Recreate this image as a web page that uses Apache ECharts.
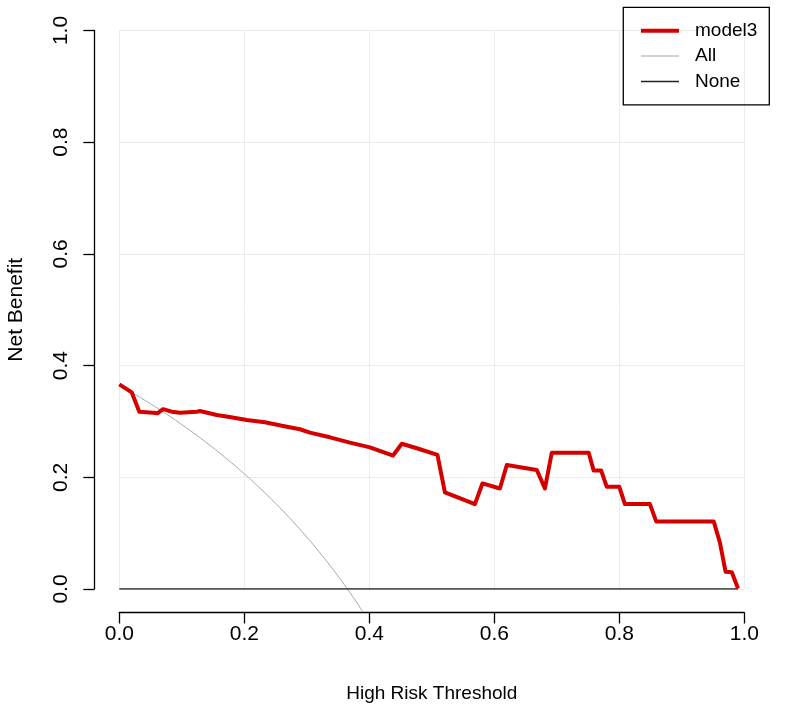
<!DOCTYPE html>
<html>
<head>
<meta charset="utf-8">
<script src="https://cdn.jsdelivr.net/npm/echarts@6/dist/echarts.min.js"></script>
<style>html,body{margin:0;padding:0;background:#fff}#c{width:787px;height:710px}</style>
</head>
<body>
<div id="c"></div>
<script>
// ---- data ----
var tickValues = [0, 0.2, 0.4, 0.6, 0.8, 1.0];
var seriesNames = ['model3', 'All', 'None'];

var modelThresholds = [0, 0.02, 0.032, 0.054, 0.061, 0.07, 0.084, 0.097, 0.124, 0.129, 0.156, 0.174, 0.204, 0.233, 0.262, 0.289, 0.305, 0.337, 0.369, 0.401, 0.438, 0.452, 0.476, 0.509, 0.521, 0.569, 0.581, 0.609, 0.620, 0.668, 0.681, 0.692, 0.751, 0.759, 0.771, 0.780, 0.800, 0.809, 0.849, 0.859, 0.951, 0.961, 0.970, 0.980, 0.990];
var modelNetBenefit = [0.3665, 0.352, 0.3175, 0.3157, 0.3145, 0.322, 0.3175, 0.3157, 0.3175, 0.3187, 0.3115, 0.3085, 0.3026, 0.2985, 0.2918, 0.286, 0.280, 0.2716, 0.262, 0.2536, 0.239, 0.260, 0.252, 0.240, 0.173, 0.152, 0.189, 0.180, 0.222, 0.213, 0.180, 0.244, 0.244, 0.212, 0.212, 0.183, 0.183, 0.152, 0.152, 0.121, 0.121, 0.083, 0.031, 0.030, 0.001];

var allThresholds = [0, 0.02, 0.04, 0.06, 0.08, 0.10, 0.12, 0.14, 0.16, 0.18, 0.20, 0.22, 0.24, 0.26, 0.28, 0.30, 0.32, 0.34, 0.36, 0.38, 0.389];
var allNetBenefit = [0.365, 0.352, 0.3385, 0.3245, 0.3098, 0.2944, 0.2784, 0.2616, 0.2440, 0.2256, 0.2062, 0.1859, 0.1645, 0.1419, 0.1181, 0.0929, 0.0662, 0.0379, 0.0078, -0.0242, -0.040];

var noneThresholds = [0, 0.99];
var noneNetBenefit = [0, 0];

function pairs(xs, ys) { return xs.map(function (x, i) { return [x, ys[i]]; }); }

var FONT = 'Liberation Sans, Arial, sans-serif';
var legendIcons = {
  model3: 'path://M0,0L38,0L38,4L0,4Z',
  All: 'path://M0,0L38,0L38,1L0,1Z',
  None: 'path://M0,0L38,0L38,1.5L0,1.5Z'
};
var chart = echarts.init(document.getElementById('c'), null, { renderer: 'canvas' });
chart.setOption({
  backgroundColor: '#ffffff',
  animation: false,
  grid: { left: 119.3, right: 42.7, top: 30.5, bottom: 121, containLabel: false, outerBoundsMode: 'none' },
  legend: {
    data: seriesNames.map(function (n) { return { name: n, icon: legendIcons[n] }; }),
    orient: 'vertical',
    right: 17.7,
    top: 7.3,
    borderColor: '#000',
    borderWidth: 1.3,
    padding: [14, 12, 14, 17.7],
    itemWidth: 38,
    itemHeight: 18,
    itemGap: 6.3,
    symbolKeepAspect: true,
    textStyle: { fontFamily: FONT, fontSize: 19, color: '#000', lineHeight: 18, padding: [0, 0, 0, 11] }
  },
  xAxis: {
    type: 'value', min: 0, max: 1, interval: 0.2, offset: 23.5,
    name: 'High Risk Threshold', nameLocation: 'middle', nameGap: 72,
    nameTextStyle: { fontFamily: FONT, fontSize: 19, color: '#000' },
    axisLine: { show: true, onZero: false, lineStyle: { color: '#000', width: 1.3 } },
    axisTick: { show: true, inside: false, length: 11, lineStyle: { color: '#000', width: 1.3 } },
    axisLabel: { fontFamily: FONT, fontSize: 21, color: '#000', margin: 11, formatter: function (v) { return v.toFixed(1); } },
    splitLine: { show: true, lineStyle: { color: '#ececec', width: 1 } }
  },
  yAxis: {
    type: 'value', min: 0, max: 1, interval: 0.2, offset: 25,
    name: 'Net Benefit', nameLocation: 'middle', nameGap: 68, nameRotate: 90,
    nameTextStyle: { fontFamily: FONT, fontSize: 21, color: '#000' },
    axisLine: { show: true, onZero: false, lineStyle: { color: '#000', width: 1.3 } },
    axisTick: { show: true, inside: false, length: 11, lineStyle: { color: '#000', width: 1.3 } },
    axisLabel: { fontFamily: FONT, fontSize: 21, color: '#000', margin: 23, rotate: 90, formatter: function (v) { return v.toFixed(1); } },
    splitLine: { show: true, lineStyle: { color: '#ececec', width: 1 } }
  },
  series: [
    {
      name: 'All', type: 'line', data: pairs(allThresholds, allNetBenefit), clip: false,
      showSymbol: false, symbol: 'none', smooth: true, z: 2,
      lineStyle: { color: '#a6a6a6', width: 1 }, itemStyle: { color: '#a6a6a6' }
    },
    {
      name: 'None', type: 'line', data: pairs(noneThresholds, noneNetBenefit),
      showSymbol: false, symbol: 'none', z: 3,
      lineStyle: { color: '#222', width: 1.5 }, itemStyle: { color: '#222' }
    },
    {
      name: 'model3', type: 'line', data: pairs(modelThresholds, modelNetBenefit),
      showSymbol: false, symbol: 'none', z: 4,
      lineStyle: { color: '#d40000', width: 4, join: 'round' }, itemStyle: { color: '#d40000' }
    }
  ]
});
</script>
</body>
</html>
